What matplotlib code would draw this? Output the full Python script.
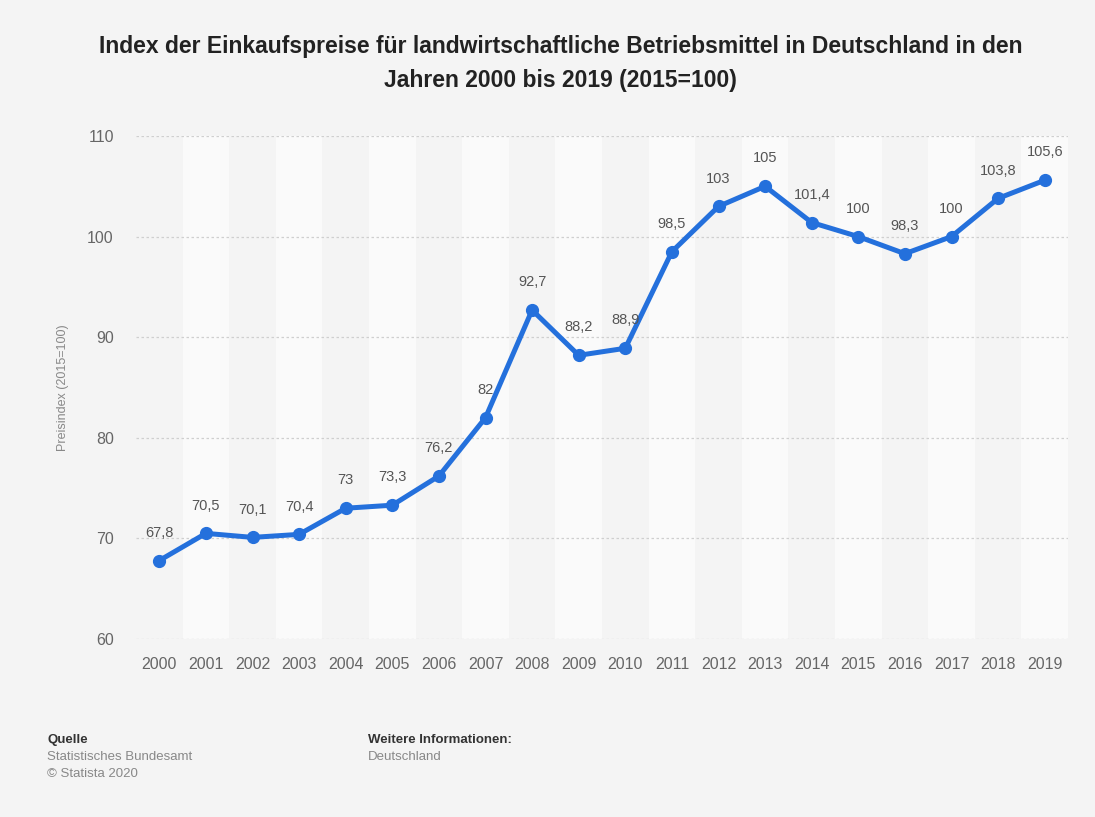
import matplotlib
matplotlib.use("Agg")
import matplotlib.pyplot as plt

years = [str(y) for y in range(2000, 2020)]
values = [67.8, 70.5, 70.1, 70.4, 73, 73.3, 76.2, 82, 92.7, 88.2, 88.9,
          98.5, 103, 105, 101.4, 100, 98.3, 100, 103.8, 105.6]
yticks = [60, 70, 80, 90, 100, 110]

plt.rcParams['font.family'] = ['Liberation Sans', 'DejaVu Sans']

bg = '#f4f4f4'
fig = plt.figure(figsize=(10.95, 8.17), dpi=100, facecolor=bg)
ax = fig.add_axes([136/1095, 1-639/817, (1068-136)/1095, (639-136)/817])
ax.set_facecolor(bg)

x = list(range(len(years)))
for i in x:
    if i % 2 == 1:
        ax.axvspan(i - 0.5, i + 0.5, color='#fafafa', zorder=0, lw=0)

ax.set_xlim(-0.5, len(years) - 0.5)
ax.set_ylim(60, 110)
ax.set_yticks(yticks)
ax.set_yticklabels([str(t) for t in yticks])
ax.set_xticks(x)
ax.set_xticklabels(years)
for t in yticks:
    ax.axhline(t, color='#cfcfcf', lw=0.9, ls=(0, (2, 2)), zorder=1)

ax.tick_params(axis='both', length=0, labelsize=11.5, labelcolor='#666666')
ax.tick_params(axis='y', pad=16)
ax.tick_params(axis='x', pad=13)
for s in ax.spines.values():
    s.set_visible(False)

ax.plot(x, values, color='#2470dc', lw=3.6, marker='o', ms=8.5, zorder=3,
        solid_joinstyle='round')

for xi, v in zip(x, values):
    lbl = f"{v:g}".replace('.', ',')
    ax.annotate(lbl, (xi, v), xytext=(0, 15), textcoords='offset points',
                ha='center', va='bottom', fontsize=10.5, color='#555555', zorder=4)

ax.set_ylabel('Preisindex (2015=100)', fontsize=9, color='#888888', labelpad=8)
ax.yaxis.set_label_coords(-0.072, 0.5)

fig.text(0.512, 1-46/817, 'Index der Einkaufspreise für landwirtschaftliche Betriebsmittel in Deutschland in den',
         ha='center', va='center', fontsize=16.5, fontweight='bold', color='#222222')
fig.text(0.512, 1-81/817, 'Jahren 2000 bis 2019 (2015=100)',
         ha='center', va='center', fontsize=16.5, fontweight='bold', color='#222222')

fs = 9.5
fig.text(47/1095, 1-740/817, 'Quelle', fontsize=fs, fontweight='bold', color='#333333', va='center')
fig.text(47/1095, 1-757/817, 'Statistisches Bundesamt', fontsize=fs, color='#888888', va='center')
fig.text(47/1095, 1-774/817, '© Statista 2020', fontsize=fs, color='#888888', va='center')
fig.text(368/1095, 1-740/817, 'Weitere Informationen:', fontsize=fs, fontweight='bold', color='#333333', va='center')
fig.text(368/1095, 1-757/817, 'Deutschland', fontsize=fs, color='#888888', va='center')

fig.savefig('out.png', dpi=100, facecolor=bg)
